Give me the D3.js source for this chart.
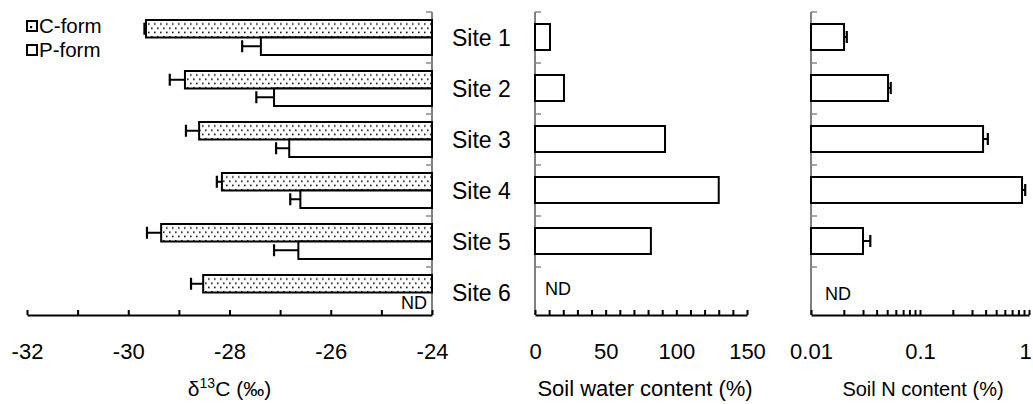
<!DOCTYPE html>
<html>
<head>
<meta charset="utf-8">
<script src="https://cdn.jsdelivr.net/npm/d3@7"></script>
<style>
  html, body { margin: 0; padding: 0; background: #fff; }
  svg { display: block; font-family: "Liberation Sans", Arial, sans-serif; }
</style>
</head>
<body>
<svg id="chart" width="1033" height="404"></svg>
<script>
// ---- data ----
const sites = ["Site 1", "Site 2", "Site 3", "Site 4", "Site 5", "Site 6"];
const seriesNames = ["C-form", "P-form"];
const cForm    = [-29.65, -28.88, -28.60, -28.15, -29.35, -28.52];
const cFormErr = [0.03, 0.30, 0.26, 0.10, 0.28, 0.24];
const pForm    = [-27.38, -27.12, -26.82, -26.60, -26.64, null];
const pFormErr = [0.37, 0.35, 0.26, 0.20, 0.48, null];
const water    = [10.6, 20.5, 92, 130, 82, null];
const soilN    = [0.0201, 0.0509, 0.379, 0.863, 0.030, null];
const soilNErr = [0.0012, 0.003, 0.04, 0.06, 0.005, null];

const d13cTicks = [-32, -31, -30, -29, -28, -27, -26, -25, -24];
const d13cLabels = [-32, -30, -28, -26, -24];
const waterTicks = d3.range(0, 151, 10);
const waterLabels = [0, 50, 100, 150];
const nLabels = [0.01, 0.1, 1];

// ---- layout ----
const svg = d3.select("#chart");
const axisY = 315;
const y = d3.scaleBand().domain(sites).range([12, 318]).padding(0);
const ySub = d3.scaleBand().domain(seriesNames).range([8, 43]);

const xL = d3.scaleLinear().domain([-32, -24]).range([27, 432]);
const xM = d3.scaleLinear().domain([0, 150]).range([535, 747]);
const xR = d3.scaleLog().domain([0.01, 1]).range([811, 1029]);

// pattern
const defs = svg.append("defs");
const pat = defs.append("pattern").attr("id", "dots")
  .attr("patternUnits", "userSpaceOnUse").attr("width", 6).attr("height", 8.5);
pat.append("rect").attr("width", 6).attr("height", 8.5).attr("fill", "#fff");
pat.append("rect").attr("x", 1).attr("y", 2).attr("width", 1.6).attr("height", 1.6).attr("fill", "#111");
pat.append("rect").attr("x", 4).attr("y", 6.2).attr("width", 1.6).attr("height", 1.6).attr("fill", "#111");

const TICK_FS = 22;

function bottomAxis(scale, ticks, labels, fmt) {
  const ax = d3.axisBottom(scale).tickValues(ticks).tickSizeInner(-5).tickSizeOuter(0)
    .tickPadding(28).tickFormat(d => labels.some(l => Math.abs(l - d) < 1e-9) ? fmt(d) : "");
  const g = svg.append("g").attr("transform", `translate(0,${axisY})`).call(ax);
  g.select(".domain").attr("stroke", "#000").attr("stroke-width", 2);
  g.selectAll(".tick line").attr("stroke", "#000").attr("stroke-width", 2);
  g.selectAll(".tick text").attr("font-size", TICK_FS).attr("fill", "#000")
    .attr("font-family", "Liberation Sans, Arial, sans-serif");
  return g;
}

function yAxisLine(x, dir) {
  svg.append("line").attr("x1", x).attr("x2", x).attr("y1", 12).attr("y2", axisY)
    .attr("stroke", "#555").attr("stroke-width", 1.5);
  svg.append("g").selectAll("line").data(sites).join("line")
    .attr("x1", x).attr("x2", x + dir * 6)
    .attr("y1", d => y(d)).attr("y2", d => y(d))
    .attr("stroke", "#888").attr("stroke-width", 1.5);
}

// ---- left panel: d13C ----
yAxisLine(432, -1);
const leftData = [];
sites.forEach((s, i) => {
  leftData.push({ site: s, series: "C-form", v: cForm[i], e: cFormErr[i] });
  leftData.push({ site: s, series: "P-form", v: pForm[i], e: pFormErr[i] });
});
const lg = svg.append("g");
const lValid = leftData.filter(d => d.v != null);
lg.selectAll("rect.bar").data(lValid).join("rect").attr("class", "bar")
  .attr("x", d => xL(d.v)).attr("width", d => xL(-24) - xL(d.v))
  .attr("y", d => y(d.site) + ySub(d.series)).attr("height", ySub.bandwidth())
  .attr("fill", d => d.series === "C-form" ? "url(#dots)" : "#fff")
  .attr("stroke", "#000").attr("stroke-width", 2);
lg.selectAll("line.err").data(lValid).join("line").attr("class", "err")
  .attr("x1", d => xL(d.v)).attr("x2", d => xL(d.v - d.e))
  .attr("y1", d => y(d.site) + ySub(d.series) + ySub.bandwidth() / 2)
  .attr("y2", d => y(d.site) + ySub(d.series) + ySub.bandwidth() / 2)
  .attr("stroke", "#000").attr("stroke-width", 2);
lg.selectAll("line.cap").data(lValid).join("line").attr("class", "cap")
  .attr("x1", d => xL(d.v - d.e)).attr("x2", d => xL(d.v - d.e))
  .attr("y1", d => y(d.site) + ySub(d.series) + ySub.bandwidth() / 2 - 6)
  .attr("y2", d => y(d.site) + ySub(d.series) + ySub.bandwidth() / 2 + 6)
  .attr("stroke", "#000").attr("stroke-width", 2.2);
lg.selectAll("text.nd").data(leftData.filter(d => d.v == null)).join("text").attr("class", "nd")
  .attr("x", xL(-24) - 5).attr("y", d => y(d.site) + ySub(d.series) + ySub.bandwidth() - 1)
  .attr("text-anchor", "end").attr("font-size", 18).text("ND");
bottomAxis(xL, d13cTicks, d13cLabels, d3.format("d")).selectAll(".tick text")
  .text(function() { return this.textContent.replace("−", "-"); });

// legend
const leg = svg.append("g");
seriesNames.forEach((n, i) => {
  const yy = 21 + i * 24;
  leg.append("rect").attr("x", 27).attr("y", yy).attr("width", 10).attr("height", 10)
    .attr("fill", "#fff").attr("stroke", "#000").attr("stroke-width", 2);
  if (i === 0) leg.append("rect").attr("x", 30).attr("y", yy + 5).attr("width", 2.2).attr("height", 2.2).attr("fill", "#000");
  leg.append("text").attr("x", 39).attr("y", yy + 11.5).attr("font-size", 20.5).text(n);
});

// site labels
svg.append("g").selectAll("text").data(sites).join("text")
  .attr("x", 452).attr("y", d => y(d) + y.bandwidth() / 2 + 8)
  .attr("font-size", 23).text(d => d);

// ---- middle panel: water ----
yAxisLine(535, 1);
const wData = sites.map((s, i) => ({ site: s, v: water[i] }));
svg.append("g").selectAll("rect").data(wData.filter(d => d.v != null)).join("rect")
  .attr("x", xM(0)).attr("width", d => xM(d.v) - xM(0))
  .attr("y", d => y(d.site) + 12).attr("height", 26)
  .attr("fill", "#fff").attr("stroke", "#000").attr("stroke-width", 2);
svg.append("g").selectAll("text").data(wData.filter(d => d.v == null)).join("text")
  .attr("x", xM(0) + 10).attr("y", d => y(d.site) + 28)
  .attr("font-size", 18).text("ND");
bottomAxis(xM, waterTicks, waterLabels, d3.format("d"));

// ---- right panel: soil N ----
yAxisLine(811, 1);
const nData = sites.map((s, i) => ({ site: s, v: soilN[i], e: soilNErr[i] }));
const nValid = nData.filter(d => d.v != null);
const rg = svg.append("g");
rg.selectAll("rect").data(nValid).join("rect")
  .attr("x", xR(0.01)).attr("width", d => xR(d.v) - xR(0.01))
  .attr("y", d => y(d.site) + 12).attr("height", 26)
  .attr("fill", "#fff").attr("stroke", "#000").attr("stroke-width", 2);
rg.selectAll("line.err").data(nValid).join("line").attr("class", "err")
  .attr("x1", d => xR(d.v)).attr("x2", d => xR(d.v + d.e))
  .attr("y1", d => y(d.site) + 25).attr("y2", d => y(d.site) + 25)
  .attr("stroke", "#000").attr("stroke-width", 2);
rg.selectAll("line.cap").data(nValid).join("line").attr("class", "cap")
  .attr("x1", d => xR(d.v + d.e)).attr("x2", d => xR(d.v + d.e))
  .attr("y1", d => y(d.site) + 19).attr("y2", d => y(d.site) + 31)
  .attr("stroke", "#000").attr("stroke-width", 2.2);
rg.selectAll("text").data(nData.filter(d => d.v == null)).join("text")
  .attr("x", xR(0.01) + 14).attr("y", d => y(d.site) + 33)
  .attr("font-size", 18).text("ND");
const nTicks = [];
[0.01, 0.1].forEach(dec => { for (let k = 1; k <= 9; k++) nTicks.push(+(dec * k).toPrecision(3)); });
nTicks.push(1);
const rAxis = bottomAxis(xR, nTicks, nLabels, d => String(d));
rAxis.selectAll(".tick text").filter(d => d === 1).attr("dx", -4);

// ---- axis titles ----
const t1 = svg.append("text").attr("x", (xL.range()[0] + xL.range()[1]) / 2).attr("y", 396)
  .attr("text-anchor", "middle").attr("font-size", 21);
t1.append("tspan").text("δ");
t1.append("tspan").attr("font-size", 14).attr("dy", -8).text("13");
t1.append("tspan").attr("dy", 8).text("C (‰)");
svg.append("text").attr("x", (xM.range()[0] + xM.range()[1]) / 2 + 4).attr("y", 396)
  .attr("text-anchor", "middle").attr("font-size", 22).text("Soil water content (%)");
svg.append("text").attr("x", (xR.range()[0] + xR.range()[1]) / 2 + 3).attr("y", 396)
  .attr("text-anchor", "middle").attr("font-size", 20).text("Soil N content (%)");
</script>
</body>
</html>
